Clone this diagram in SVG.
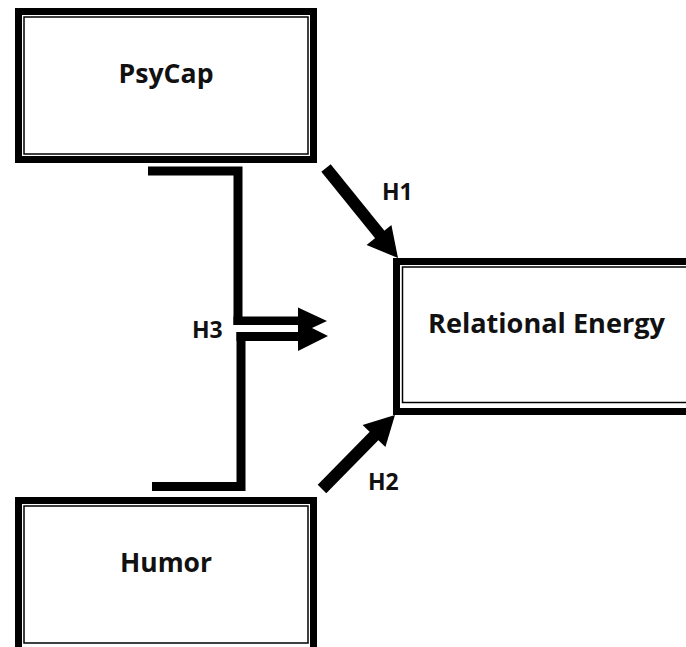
<svg xmlns="http://www.w3.org/2000/svg" width="686" height="647" viewBox="0 0 686 647">
<style>
.outer{fill:#fff;stroke:#000;stroke-width:7}
.inner{fill:none;stroke:#000;stroke-width:1.5}
.lbl{font-family:"Open Sans","Noto Sans",sans-serif;font-weight:bold;font-size:26px;fill:#111;text-anchor:middle}
.h{font-family:"Open Sans","Noto Sans",sans-serif;font-weight:bold;font-size:23px;fill:#111}
.ln{fill:none;stroke:#000;stroke-linecap:butt}
</style>
<rect width="686" height="647" fill="#fff"/>
<g id="psycap">
<rect class="outer" x="18.5" y="11.5" width="295" height="148"/>
<rect class="inner" x="24" y="17" width="284" height="137"/>
<text class="lbl" x="166" y="83" textLength="95" lengthAdjust="spacingAndGlyphs">PsyCap</text>
</g>
<g id="relational-energy">
<rect class="outer" x="396.5" y="261.5" width="310" height="150"/>
<rect class="inner" x="402.5" y="267" width="300" height="135.5"/>
<text class="lbl" x="546.5" y="333" textLength="237" lengthAdjust="spacingAndGlyphs">Relational Energy</text>
</g>
<g id="humor">
<rect class="outer" x="18.5" y="500.5" width="295" height="150"/>
<rect class="inner" x="24" y="506" width="284" height="137"/>
<text class="lbl" x="166" y="572" textLength="92" lengthAdjust="spacingAndGlyphs">Humor</text>
</g>
<g id="connectors">
<path class="ln" d="M148,171 H238 V325" stroke-width="9"/>
<path class="ln" d="M152,486.5 H241 V332" stroke-width="9"/>
<polygon points="233.5,316.5 298,316.5 298,307.5 327,321 298,334.5 298,325 233.5,325" fill="#000"/>
<polygon points="236.5,332 298,332 298,321 328,336 298,351 298,341 236.5,341" fill="#000"/>
<line x1="326" y1="168" x2="381" y2="236" stroke="#000" stroke-width="12"/>
<polygon points="398,258 366.6,245 391.4,225" fill="#000"/>
<line x1="322" y1="489" x2="376" y2="434" stroke="#000" stroke-width="12"/>
<polygon points="395,415 385.4,447 362.6,425" fill="#000"/>
<text class="h" x="382" y="200">H1</text>
<text class="h" x="368" y="490">H2</text>
<text class="h" x="192" y="338">H3</text>
</g>
</svg>
